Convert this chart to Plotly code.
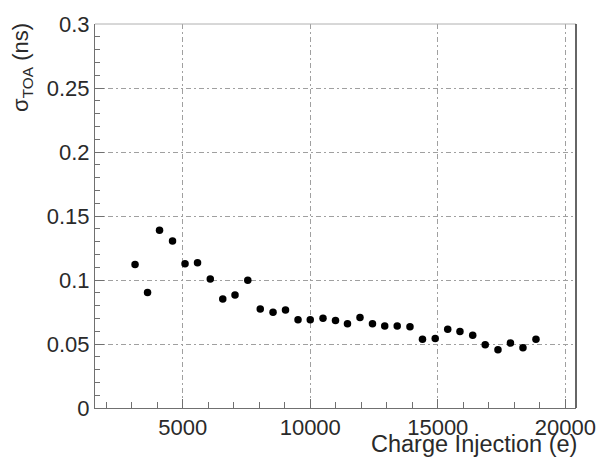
import plotly.graph_objects as go

# Time-of-arrival jitter versus injected charge
charge_e = [3130, 3620, 4090, 4600, 5090, 5580, 6080, 6570, 7050, 7550,
            8040, 8540, 9030, 9520, 10000, 10500, 10990, 11460, 11950, 12440,
            12920, 13410, 13910, 14400, 14900, 15390, 15870, 16370, 16860,
            17360, 17850, 18340, 18850]
sigma_toa_ns = [0.1121, 0.0903, 0.1389, 0.1304, 0.1126, 0.1134, 0.1008, 0.0851,
                0.0882, 0.0998, 0.0774, 0.0748, 0.0766, 0.0689, 0.0689, 0.0702,
                0.0684, 0.0658, 0.0707, 0.0658, 0.0641, 0.0641, 0.0635, 0.0538,
                0.0543, 0.0615, 0.0597, 0.0568, 0.0494, 0.0455, 0.0507, 0.0471,
                0.0538]

x_tick_vals = [5000, 10000, 15000, 20000]
x_tick_text = ["5000", "10000", "15000", "20000"]
y_tick_vals = [0, 0.05, 0.1, 0.15, 0.2, 0.25, 0.3]
y_tick_text = ["0", "0.05", "0.1", "0.15", "0.2", "0.25", "0.3"]

FONT = "Liberation Sans, Arial, Helvetica, sans-serif"
TEXT = "#2a2a2a"
AXIS_GREY = "#707070"
GRID_GREY = "#a0a0a0"

fig = go.Figure()
fig.add_trace(go.Scatter(
    x=charge_e, y=sigma_toa_ns, mode="markers",
    marker=dict(color="black", size=7.5, symbol="circle"),
    showlegend=False,
))

fig.update_layout(
    width=608, height=458,
    margin=dict(l=95, r=23, t=19.5, b=50),
    paper_bgcolor="white", plot_bgcolor="white",
    font=dict(family=FONT, size=22, color=TEXT),
)

fig.update_xaxes(
    range=[1560, 20420],
    tickmode="array", tickvals=x_tick_vals, ticktext=x_tick_text,
    ticks="inside", ticklen=9, tickwidth=1, tickcolor=AXIS_GREY,
    minor=dict(dtick=1000, tick0=0, ticks="inside", ticklen=6,
               tickcolor=AXIS_GREY, showgrid=False),
    showline=True, linecolor=AXIS_GREY, linewidth=1, mirror=False,
    showgrid=True, gridcolor=GRID_GREY, gridwidth=1,
    griddash="5px,3px,2px,3px",
    zeroline=False,
    tickfont=dict(family=FONT, size=22, color=TEXT),
)
fig.update_yaxes(
    range=[0, 0.3],
    tickmode="array", tickvals=y_tick_vals, ticktext=y_tick_text,
    ticks="inside", ticklen=9, tickwidth=1, tickcolor=AXIS_GREY,
    minor=dict(dtick=0.01, tick0=0, ticks="inside", ticklen=5,
               tickcolor=AXIS_GREY, showgrid=False),
    showline=True, linecolor=AXIS_GREY, linewidth=1, mirror=False,
    showgrid=True, gridcolor=GRID_GREY, gridwidth=1,
    griddash="5px,3px,2px,3px",
    zeroline=False,
    tickfont=dict(family=FONT, size=22, color=TEXT),
)

# Frame: light top edge, dark right edge
fig.add_shape(type="line", xref="paper", yref="paper", x0=0, x1=1, y0=1, y1=1,
              line=dict(color="#b0b0b0", width=1))
fig.add_shape(type="line", xref="paper", yref="paper", x0=1, x1=1, y0=0, y1=1,
              line=dict(color="#333333", width=1.5))

# Axis titles, ROOT style: right-aligned on x, top-aligned on y
fig.add_annotation(
    text="Charge Injection (e)", xref="paper", yref="paper",
    x=1.006, y=-0.055, xanchor="right", yanchor="top", showarrow=False,
    font=dict(family=FONT, size=23.5, color=TEXT),
)
fig.add_annotation(
    text="σ<sub>TOA</sub> (ns)", xref="paper", yref="paper",
    x=-0.153, y=1, xanchor="center", yanchor="top", yshift=3,
    textangle=-90, showarrow=False,
    font=dict(family=FONT, size=22, color=TEXT),
)

fig.write_html("out.html")
